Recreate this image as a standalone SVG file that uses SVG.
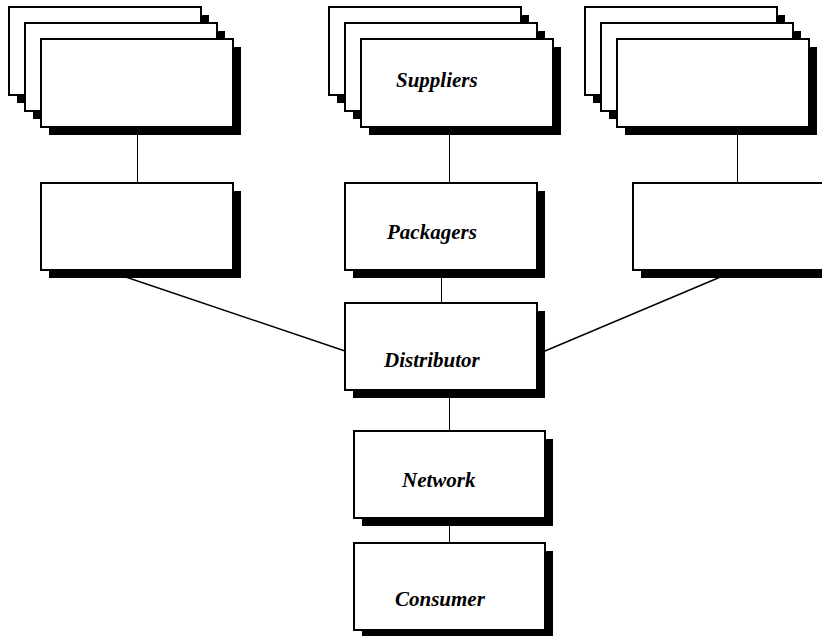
<svg xmlns="http://www.w3.org/2000/svg" width="822" height="636" viewBox="0 0 822 636">
  <style>
    .box { fill: #ffffff; stroke: #000000; stroke-width: 2; }
    .shadow { fill: #000000; stroke: none; }
    .link { stroke: #000000; stroke-width: 1; fill: none; }
    .slant { stroke: #000000; stroke-width: 1.4; fill: none; }
    .label { font-family: "Liberation Serif", "Times New Roman", serif; font-size: 21px; font-weight: bold; font-style: italic; fill: #000000; }
  </style>
  <defs>
    <!-- a single card with its drop shadow, origin at card top-left -->
    <g id="card">
      <rect class="shadow" x="8" y="8" width="192" height="88"/>
      <rect class="box" x="0" y="0" width="192" height="88"/>
    </g>
    <g id="block">
      <rect class="shadow" x="8" y="8" width="192" height="87"/>
      <rect class="box" x="0" y="0" width="192" height="87"/>
    </g>
  </defs>

  <rect width="822" height="636" fill="#ffffff"/>

  <!-- connectors (half-pixel x keeps the 1px lines crisp) -->
  <g id="connectors">
    <line class="link" x1="137.5" y1="128" x2="137.5" y2="183"/>
    <line class="link" x1="449.5" y1="128" x2="449.5" y2="183"/>
    <line class="link" x1="737.5" y1="128" x2="737.5" y2="183"/>
    <line class="link" x1="441.5" y1="270" x2="441.5" y2="303"/>
    <line class="link" x1="449.5" y1="390" x2="449.5" y2="431"/>
    <line class="link" x1="449.5" y1="518" x2="449.5" y2="543"/>
    <line class="slant" x1="105" y1="270" x2="345" y2="351"/>
    <line class="slant" x1="737" y1="270" x2="545" y2="351"/>
  </g>

  <!-- supplier stacks -->
  <g id="stack-left">
    <use href="#card" x="9" y="7"/>
    <use href="#card" x="25" y="23"/>
    <use href="#card" x="41" y="39"/>
  </g>
  <g id="suppliers">
    <use href="#card" x="329" y="7"/>
    <use href="#card" x="345" y="23"/>
    <use href="#card" x="361" y="39"/>
    <text class="label" x="396" y="87">Suppliers</text>
  </g>
  <g id="stack-right">
    <use href="#card" x="585" y="7"/>
    <use href="#card" x="601" y="23"/>
    <use href="#card" x="617" y="39"/>
  </g>

  <!-- packager row -->
  <g id="packager-left">
    <use href="#block" x="41" y="183"/>
  </g>
  <g id="packagers">
    <use href="#block" x="345" y="183"/>
    <text class="label" x="387" y="239">Packagers</text>
  </g>
  <g id="packager-right">
    <use href="#block" x="633" y="183"/>
  </g>

  <!-- distribution chain -->
  <g id="distributor">
    <use href="#block" x="345" y="303"/>
    <text class="label" x="384" y="367">Distributor</text>
  </g>
  <g id="network">
    <rect class="shadow" x="362" y="439" width="191" height="87"/>
    <rect class="box" x="354" y="431" width="191" height="87"/>
    <text class="label" x="402" y="487">Network</text>
  </g>
  <g id="consumer">
    <rect class="shadow" x="362" y="551" width="191" height="87"/>
    <rect class="box" x="354" y="543" width="191" height="87"/>
    <text class="label" x="395" y="606">Consumer</text>
  </g>
</svg>
